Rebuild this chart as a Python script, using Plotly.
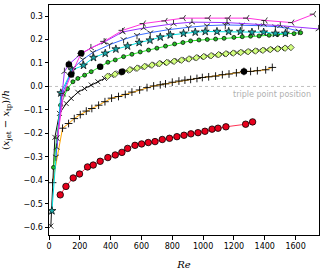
import plotly.graph_objects as go

# ---- data ----
magenta_re = [55, 95, 144, 209, 358, 477, 614, 755, 873, 1036, 1166, 1285, 1404, 1577, 1718]
magenta_y = [-0.22, -0.03, 0.051, 0.141, 0.192, 0.239, 0.268, 0.279, 0.291, 0.291, 0.291, 0.291, 0.281, 0.272, 0.308]

purple_re = [50, 100, 129, 200, 272, 358, 477, 614, 808, 928, 1155, 1393, 1501, 1750]
purple_y = [-0.26, 0.063, 0.094, 0.135, 0.164, 0.189, 0.232, 0.249, 0.267, 0.274, 0.272, 0.265, 0.259, 0.245]

blue_re = [45, 80, 155, 220, 285, 393, 484, 571, 657, 776, 906, 1025, 1144, 1252, 1360, 1469, 1545, 1620]
blue_y = [-0.30, -0.04, 0.077, 0.115, 0.145, 0.178, 0.200, 0.218, 0.229, 0.242, 0.252, 0.259, 0.262, 0.262, 0.259, 0.255, 0.248, 0.236]

cyan_re = [19, 77, 149, 224, 289, 365, 434, 510, 585, 655, 722, 787, 873, 949, 1014, 1090, 1166, 1242, 1317, 1393, 1469, 1534]
cyan_y = [-0.53, -0.028, 0.07, 0.09, 0.123, 0.141, 0.159, 0.172, 0.187, 0.197, 0.210, 0.219, 0.226, 0.231, 0.234, 0.234, 0.234, 0.234, 0.231, 0.231, 0.226, 0.226]

green_re = [29, 75, 120, 155, 187, 231, 274, 332, 382, 430, 484, 538, 592, 646, 700, 756, 815, 869, 919, 973, 1027, 1081, 1136, 1200, 1254, 1308, 1363, 1428, 1482, 1536, 1590, 1633]
green_y = [-0.345, -0.08, -0.01, 0.02, 0.034, 0.048, 0.063, 0.084, 0.103, 0.113, 0.127, 0.137, 0.147, 0.155, 0.163, 0.172, 0.181, 0.187, 0.194, 0.198, 0.200, 0.202, 0.205, 0.209, 0.212, 0.214, 0.215, 0.218, 0.221, 0.225, 0.225, 0.229]

cross_re = [12, 38, 68, 112, 144, 187, 231, 274, 317, 360, 404, 452, 500, 548, 596, 644, 692, 740, 788, 836, 884, 932, 980, 1028, 1076, 1124, 1172, 1220, 1268, 1316, 1364, 1412, 1460, 1508, 1551]
cross_y = [-0.595, -0.217, -0.115, -0.073, -0.051, -0.025, -0.009, 0.006, 0.020, 0.034, 0.047, 0.057, 0.066, 0.074, 0.081, 0.088, 0.094, 0.100, 0.105, 0.110, 0.115, 0.120, 0.125, 0.129, 0.133, 0.137, 0.141, 0.144, 0.147, 0.150, 0.153, 0.156, 0.159, 0.162, 0.165]

diam_re = [380, 428, 476, 524, 572, 620, 668, 716, 764, 812, 860, 908, 956, 1004, 1052, 1100, 1148, 1196, 1244, 1292, 1340, 1388, 1436, 1484, 1532, 1570]
diam_y = [0.043, 0.052, 0.062, 0.071, 0.078, 0.085, 0.091, 0.097, 0.102, 0.107, 0.112, 0.117, 0.122, 0.127, 0.131, 0.135, 0.139, 0.142, 0.145, 0.148, 0.151, 0.154, 0.157, 0.160, 0.163, 0.166]

orange_re = [23, 88, 127, 164, 203, 242, 278, 322, 363, 406, 451, 495, 538, 588, 636, 679, 722, 756, 800, 843, 882, 919, 960, 995, 1036, 1081, 1125, 1168, 1216, 1265, 1308, 1352, 1406, 1449]
orange_y = [-0.41, -0.178, -0.158, -0.137, -0.120, -0.105, -0.094, -0.080, -0.065, -0.050, -0.043, -0.034, -0.024, -0.015, -0.005, 0.002, 0.007, 0.011, 0.018, 0.023, 0.027, 0.030, 0.034, 0.038, 0.041, 0.044, 0.050, 0.053, 0.058, 0.064, 0.064, 0.067, 0.071, 0.081]

red_re = [73, 110, 157, 198, 250, 287, 332, 382, 430, 473, 510, 558, 601, 644, 688, 735, 782, 830, 876, 921, 967, 1012, 1058, 1097, 1148, 1276, 1321]
red_y = [-0.462, -0.426, -0.390, -0.373, -0.343, -0.335, -0.319, -0.303, -0.292, -0.281, -0.264, -0.251, -0.245, -0.239, -0.235, -0.226, -0.221, -0.214, -0.208, -0.202, -0.197, -0.191, -0.182, -0.178, -0.172, -0.161, -0.151]

dots_re = [144, 209, 129, 332, 473, 1265]
dots_y = [0.051, 0.141, 0.094, 0.084, 0.063, 0.064]

x_ticks = [0, 200, 400, 600, 800, 1000, 1200, 1400, 1600]
y_ticks = [-0.6, -0.5, -0.4, -0.3, -0.2, -0.1, 0.0, 0.1, 0.2, 0.3]

fig = go.Figure()


def add(xs, ys, lc, sym, size, face, edge="black", ew=0.8, lw=1.0):
    fig.add_trace(go.Scatter(
        x=xs, y=ys, mode="lines+markers",
        line=dict(color=lc, width=lw),
        marker=dict(symbol=sym, size=size, color=face,
                    line=dict(color=edge, width=ew)),
        showlegend=False, hoverinfo="skip"))


add(red_re, red_y, "#ff3355", "circle", 6.5, "#e8001c", ew=0.8)
add(orange_re, orange_y, "#ffa500", "cross-thin", 5.5, "black", ew=0.9)
add(cross_re, cross_y, "#111111", "x-thin", 5, "black", ew=0.8)
add(diam_re, diam_y, "#adff2f", "diamond", 5, "#d4ff80", ew=0.6)
add(green_re, green_y, "#22ee22", "circle", 4, "#22bb22", ew=0.7)
add(cyan_re, cyan_y, "#00e0e0", "star", 6, "#1aa7a7", ew=0.7)
add(blue_re, blue_y, "#3a6cff", "y-down", 5, "black", edge="#222222", ew=0.9)
add(purple_re, purple_y, "#9b30ff", "y-up", 5, "black", edge="#222222", ew=0.9)
add(magenta_re, magenta_y, "#ff33dd", "y-left", 5, "black", edge="#222222", ew=0.9)

fig.add_trace(go.Scatter(x=dots_re, y=dots_y, mode="markers",
                         marker=dict(symbol="circle", size=6.5, color="black"),
                         showlegend=False, hoverinfo="skip"))

fig.add_shape(type="line", xref="paper", x0=0, x1=1, yref="y", y0=0, y1=0,
              line=dict(color="#c0c0c0", width=1, dash="dot"), layer="below")

fig.add_annotation(x=1712, y=-0.008, xref="x", yref="y", xanchor="right", yanchor="top",
                   text="triple point position", showarrow=False,
                   font=dict(family="DejaVu Sans", size=8, color="#b0b0b0"))

axis_common = dict(showline=True, linecolor="black", linewidth=1, mirror=True,
                   ticks="outside", ticklen=3.5, tickwidth=1, tickcolor="black",
                   showgrid=False, zeroline=False, automargin=False,
                   tickfont=dict(family="DejaVu Sans", size=8, color="black"))

fig.update_xaxes(range=[0, 1752], tickvals=x_ticks, ticktext=[str(v) for v in x_ticks],
                 title=dict(text="<i>Re</i>", font=dict(family="DejaVu Serif", size=10, color="black")),
                 **axis_common)
fig.update_yaxes(range=[-0.633, 0.347], tickvals=y_ticks,
                 ticktext=[("\u2212" if v < 0 else "") + f"{abs(v):.1f}" for v in y_ticks],
                 title=dict(text="(<i>x</i><sub>jet</sub> \u2212 <i>x</i><sub>tp</sub>)/<i>h</i>",
                            font=dict(family="DejaVu Serif", size=10, color="black")),
                 **axis_common)

fig.update_layout(width=324, height=270, autosize=False,
                  margin=dict(l=49, r=5, t=5, b=35, pad=0),
                  paper_bgcolor="white", plot_bgcolor="white")

fig.write_html("out.html", config={"displayModeBar": False},
               post_script="document.body.style.margin='0';")
